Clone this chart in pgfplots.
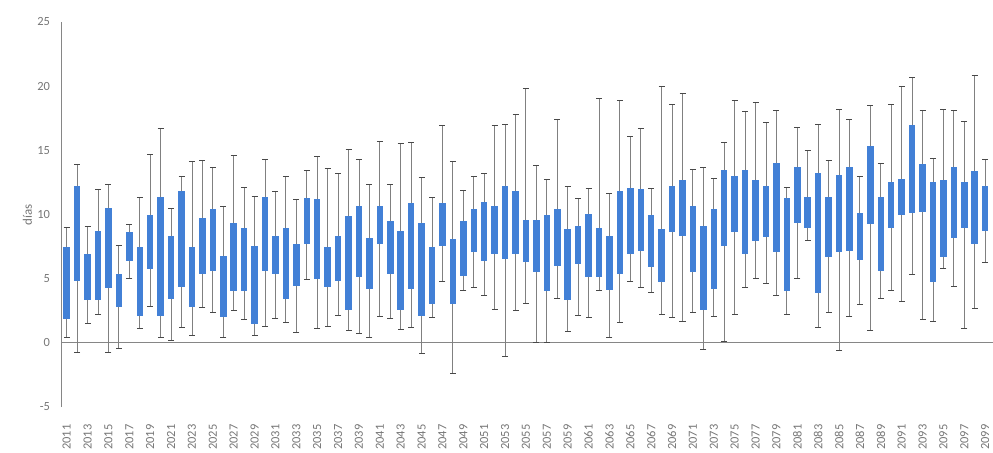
\documentclass[border=0pt]{standalone}
\usepackage{fontspec}
\setmainfont{Carlito}
\usepackage{pgfplots}
\pgfplotsset{compat=1.18}
\usepackage{pgfplotstable}

\definecolor{boxblue}{RGB}{66,128,214}
\definecolor{whisk}{RGB}{128,128,128}
\definecolor{capc}{RGB}{72,72,72}
\definecolor{axgray}{RGB}{134,134,134}
\definecolor{txtgray}{RGB}{118,118,118}

% yearly spread of days: whisker ends (min, max) and box (q1, q3)
\pgfplotstableread{
year min q1 q3 max
2011 0.45 1.87 7.43 8.98
2012 -0.76 4.84 12.2 13.9
2013 1.49 3.3 6.9 9.1
2014 2.2 3.3 8.7 11.95
2015 -0.76 4.3 10.5 12.3
2016 -0.45 2.78 5.36 7.6
2017 5.05 6.4 8.6 9.2
2018 1.1 2.06 7.43 11.3
2019 2.83 5.75 10.0 14.7
2020 0.45 2.1 11.4 16.7
2021 0.19 3.42 8.33 10.5
2022 1.23 4.33 11.8 13.0
2023 0.58 2.78 7.43 14.1
2024 2.73 5.36 9.75 14.2
2025 2.39 5.62 10.4 13.7
2026 0.45 2.0 6.78 10.66
2027 2.52 4.07 9.37 14.6
2028 1.8 4.07 8.98 12.1
2029 0.58 1.49 7.56 11.4
2030 1.3 5.62 11.4 14.3
2031 1.87 5.36 8.33 11.8
2032 1.61 3.42 8.98 13.0
2033 0.84 4.46 7.69 11.2
2034 4.92 7.69 11.3 13.4
2035 1.1 4.97 11.2 14.5
2036 1.3 4.33 7.43 13.55
2037 2.13 4.84 8.33 13.2
2038 0.97 2.52 9.88 15.05
2039 0.71 5.1 10.66 14.3
2040 0.45 4.2 8.2 12.3
2041 2.06 7.69 10.66 15.7
2042 1.87 5.36 9.5 12.3
2043 1.02 2.52 8.7 15.5
2044 1.23 4.2 10.9 15.6
2045 -0.84 2.13 9.3 12.9
2046 2.0 3.04 7.43 11.3
2047 4.77 7.56 10.9 16.9
2048 -2.4 3.04 8.07 14.15
2049 4.07 5.23 9.5 11.87
2050 4.33 7.04 10.4 13.0
2051 3.68 6.4 11.0 13.2
2052 2.57 6.96 10.66 16.9
2053 -1.05 6.52 12.2 17.0
2054 2.52 6.96 11.87 17.8
2055 3.09 6.27 9.55 19.8
2056 0.0 5.49 9.55 13.8
2057 0.06 4.07 10.0 12.7
2058 3.42 6.0 10.4 17.4
2059 0.92 3.3 8.85 12.2
2060 2.13 6.14 9.1 11.25
2061 1.95 5.1 10.06 12.0
2062 4.07 5.1 8.98 19.06
2063 0.45 4.12 8.33 11.6
2064 1.61 5.36 11.87 18.9
2065 4.8 6.96 12.08 16.1
2066 4.33 7.17 11.95 16.7
2067 3.94 5.88 10.0 12.0
2068 2.2 4.72 8.9 20.0
2069 2.0 8.6 12.2 18.6
2070 1.67 8.33 12.7 19.4
2071 2.39 5.49 10.66 13.5
2072 -0.53 2.52 9.1 13.7
2073 2.06 4.2 10.4 12.8
2074 0.14 7.56 13.5 15.6
2075 2.18 8.6 13.0 18.85
2076 4.28 6.9 13.5 18.0
2077 5.05 7.95 12.7 18.7
2078 4.64 8.25 12.2 17.2
2079 3.66 7.1 14.0 18.1
2080 2.2 4.07 11.25 12.1
2081 5.05 9.3 13.7 16.8
2082 8.0 8.98 11.36 15.0
2083 1.23 3.86 13.2 17.0
2084 2.39 6.65 11.4 14.2
2085 -0.63 7.04 13.1 18.15
2086 2.06 7.17 13.7 17.4
2087 2.98 6.44 10.14 13.0
2088 0.97 9.24 15.3 18.5
2089 3.42 5.62 11.36 14.0
2090 4.07 8.98 12.5 18.6
2091 3.24 9.96 12.8 20.0
2092 5.36 10.14 17.0 20.7
2093 1.8 10.2 13.9 18.1
2094 1.69 4.72 12.5 14.35
2095 5.8 6.65 12.7 18.2
2096 4.38 8.2 13.7 18.1
2097 1.1 8.98 12.5 17.25
2098 2.65 7.69 13.4 20.8
2099 6.27 8.72 12.2 14.3
}\dias

\begin{document}
\begin{tikzpicture}
\useasboundingbox (-61.5bp,-46bp) rectangle (931.5bp,407bp);
\begin{axis}[
  scale only axis,
  width=931.5bp, height=385bp,
  xmin=2010.5, xmax=2099.75,
  ymin=-5, ymax=25,
  axis lines*=left,
  x axis line style={draw=none},
  y axis line style={draw=axgray, line width=0.8bp},
  xtick={2011,2013,...,2099},
  ytick={-5,0,...,25},
  major tick length=0pt,
  /pgf/number format/assume math mode=true,
  /pgf/number format/1000 sep={},
  tick label style={font=\fontsize{12.5}{15}\selectfont, text=txtgray},
  xticklabel style={rotate=90, anchor=east},
  xticklabel shift=14bp,
  yticklabel shift=8bp,
  extra y ticks={0},
  extra y tick labels={},
  extra y tick style={grid=major, major grid style={draw=axgray, line width=0.8bp}},
  ylabel={días},
  ylabel style={font=\fontsize{13}{15}\selectfont, text=txtgray,
    at={(rel axis cs:0,0.5)}, anchor=center, yshift=34bp},
]
% whiskers from min to max with caps
\addplot[draw=none, no markers,
  error bars/.cd, y dir=both, y explicit,
  error bar style={draw=whisk, line width=0.9bp},
  error mark options={rotate=90, draw=capc, line width=1bp, mark size=3bp}]
  table[x=year, y expr={(\thisrow{min}+\thisrow{max})/2},
        y error expr={(\thisrow{max}-\thisrow{min})/2}] {\dias};
% boxes from q1 to q3
\addplot[draw=none, no markers,
  error bars/.cd, y dir=both, y explicit,
  error bar style={draw=boxblue, line width=6.5bp},
  error mark=none]
  table[x=year, y expr={(\thisrow{q1}+\thisrow{q3})/2},
        y error expr={(\thisrow{q3}-\thisrow{q1})/2}] {\dias};
\end{axis}
\end{tikzpicture}
\end{document}
